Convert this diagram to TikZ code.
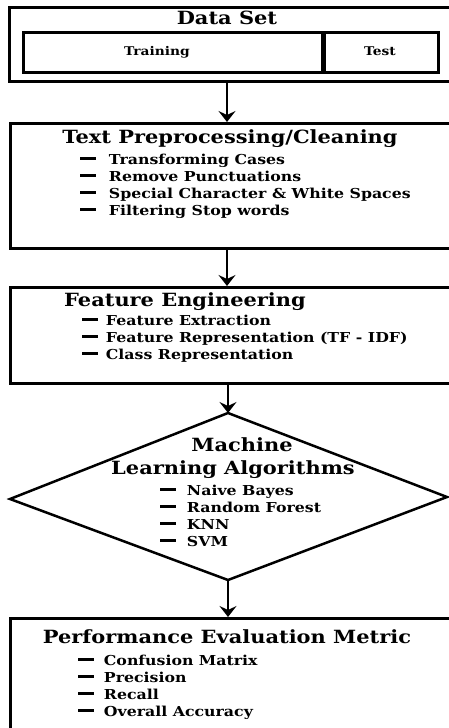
\documentclass[tikz,border=0pt]{standalone}
\usepackage{fontspec}
\setmainfont{DejaVu Serif}[FakeStretch=1.15]
\usetikzlibrary{arrows.meta}
\newcommand{\itemdash}[1]{\rule[0.27em]{1.15em}{0.21em}\hspace{#1}}
\begin{document}
\begin{tikzpicture}[x=1pt,y=-1pt,
  boxst/.style={draw, line width=2.8pt, anchor=north west, inner sep=0},
  ttl/.style={font=\fontsize{18.2}{21}\selectfont\bfseries, inner sep=0, anchor=base},
  sub/.style={font=\fontsize{12}{14}\selectfont\bfseries, inner sep=0, anchor=base},
  itm/.style={font=\fontsize{13.7}{16}\selectfont\bfseries, inner sep=0, anchor=base west},
  arr/.style={line width=2.5pt, -{Stealth[length=11pt,width=17pt,inset=4pt]}}]
\useasboundingbox (0,0) rectangle (448,728);
% Data set
\node[boxst, minimum width=444pt, minimum height=74pt] (ds) at (8,6) {};
\node[ttl] (dst) at (227,24) {Data Set};
\node[boxst, minimum width=299pt, minimum height=40pt] (tr) at (22,31) {};
\node[boxst, minimum width=116pt, minimum height=40pt] (te) at (321,31) {};
\draw[line width=4pt] (tr.north east) -- (tr.south east);
\node[sub] (trt) at (157,55) {Training};
\node[sub] (tet) at (380,55) {Test};
% box 2
\node[boxst, minimum width=443pt, minimum height=125pt] (pp) at (9,122) {};
\node[ttl] (ppt) at (230,143) {Text Preprocessing/Cleaning};
\node[itm] (p1) at (80,164) {\itemdash{13pt}Transforming Cases};
\node[itm] (p2) at (80,181) {\itemdash{13pt}Remove Punctuations};
\node[itm] (p3) at (80,198) {\itemdash{13pt}Special Character \& White Spaces};
\node[itm] (p4) at (80,215) {\itemdash{13pt}Filtering Stop words};
% box 3
\node[boxst, minimum width=443pt, minimum height=96pt] (fe) at (9,286) {};
\node[ttl] (fet) at (185,306) {Feature Engineering};
\node[itm] (f1) at (82,325) {\itemdash{8pt}Feature Extraction};
\node[itm] (f2) at (82,342) {\itemdash{8pt}Feature Representation (TF - IDF)};
\node[itm] (f3) at (82,359) {\itemdash{8pt}Class Representation};
% diamond
\coordinate (dT) at (228,413);
\coordinate (dR) at (447,497);
\coordinate (dB) at (228,580);
\coordinate (dL) at (10,499);
\draw[line width=2.5pt, line join=miter] (dT) -- (dR) -- (dB) -- (dL) -- cycle;
\node[ttl] (m1) at (242,451) {Machine};
\node[ttl] (m2) at (233,474) {Learning Algorithms};
\node[itm] (a1) at (160,495) {\itemdash{11pt}Naive Bayes};
\node[itm] (a2) at (160,512) {\itemdash{11pt}Random Forest};
\node[itm] (a3) at (160,529) {\itemdash{11pt}KNN};
\node[itm] (a4) at (160,546) {\itemdash{11pt}SVM};
% box 5
\node[boxst, minimum width=443pt, minimum height=112pt] (pe) at (9,617) {};
\node[ttl] (pet) at (227,643) {Performance Evaluation Metric};
\node[itm] (e1) at (78,665) {\itemdash{10pt}Confusion Matrix};
\node[itm] (e2) at (78,682) {\itemdash{10pt}Precision};
\node[itm] (e3) at (78,699) {\itemdash{10pt}Recall};
\node[itm] (e4) at (78,716) {\itemdash{10pt}Overall Accuracy};
% arrows
\draw[arr] (ds.south -| 227,0) -- (pp.north -| 227,0);
\draw[arr] (pp.south -| 227,0) -- (fe.north -| 227,0);
\draw[arr] (fe.south -| 228,0) -- (dT);
\draw[arr] (dB) -- (pe.north -| 228,0);
\end{tikzpicture}
\end{document}
